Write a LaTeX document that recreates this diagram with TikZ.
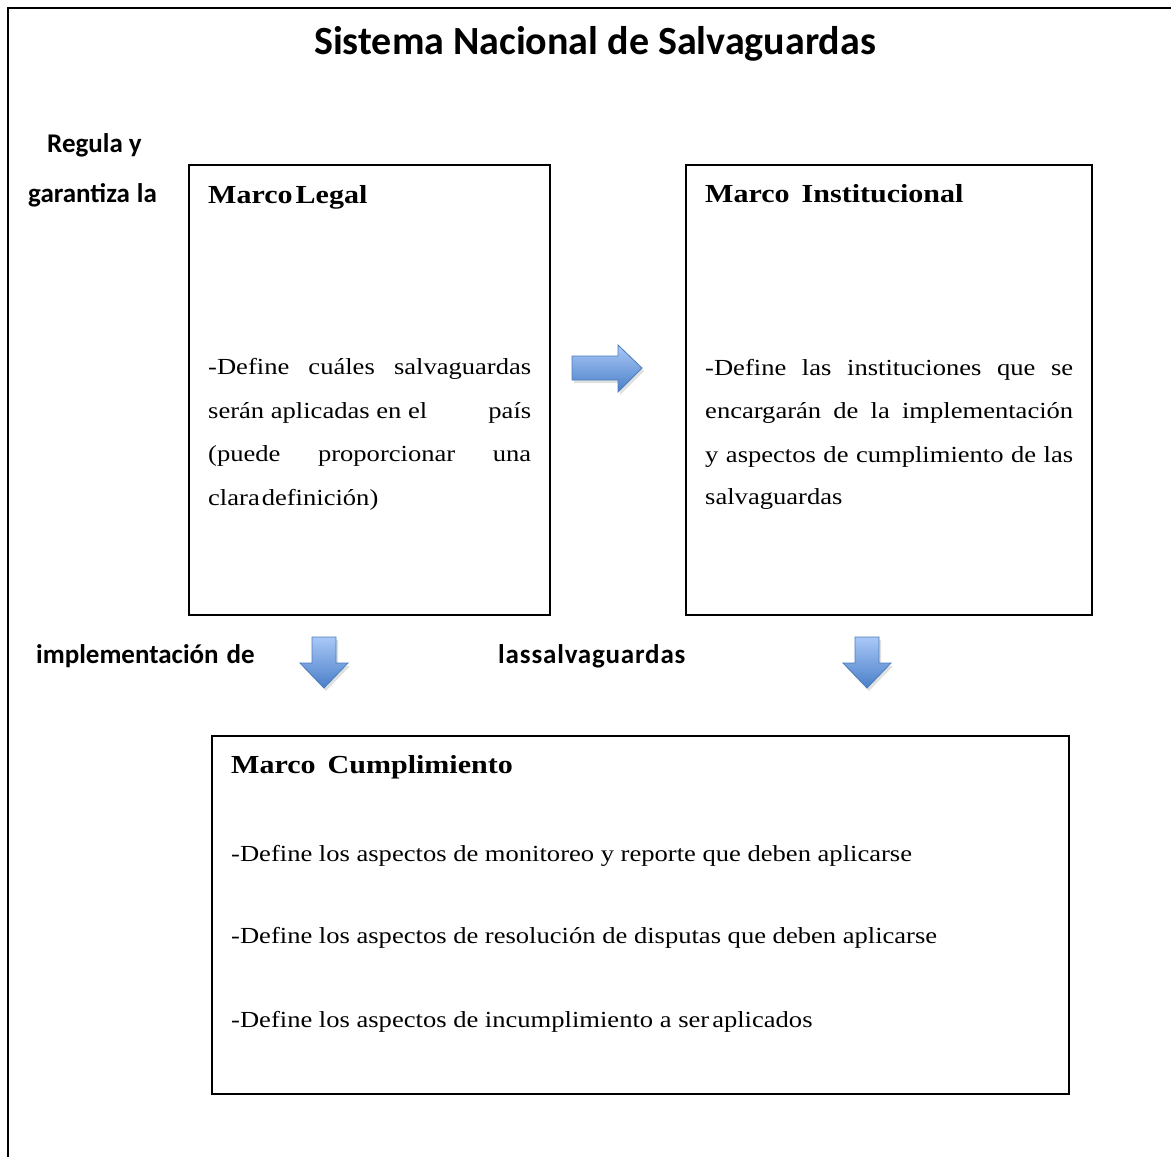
\documentclass[tikz,border=0pt]{standalone}
\usepackage{fontspec}
\setmainfont{Liberation Serif}[FakeStretch=1.155]
\newfontfamily\sansb{Carlito}
\newfontfamily\sansbwide{Carlito}[LetterSpace=3]
\definecolor{arrowlight}{HTML}{A9C8F7}
\definecolor{arrowdark}{HTML}{4A7FC8}
\definecolor{arrowline}{HTML}{4A7EBB}
\tikzset{
  frame/.style={draw=black, line width=1.8pt},
  box/.style={draw=black, line width=1.4pt, anchor=north west, inner sep=0pt, outer sep=0pt},
  bodytext/.style={anchor=base west, inner sep=0pt, font=\fontsize{23}{27}\selectfont},
  headtext/.style={anchor=base west, inner sep=0pt, font=\fontsize{26}{31}\selectfont\bfseries},
  labeltext/.style={anchor=base west, inner sep=0pt, font=\sansb\bfseries\fontsize{27}{32}\selectfont},
  widelabel/.style={anchor=base west, inner sep=0pt, font=\sansbwide\bfseries\fontsize{27}{32}\selectfont},
  titletext/.style={anchor=base, inner sep=0pt, font=\sansb\bfseries\fontsize{40}{48}\selectfont},
  blockarrow/.style={top color=arrowlight, bottom color=arrowdark, draw=arrowline, line width=0.8pt},
  arrowshadow/.style={fill=black, opacity=0.12},
}
\begin{document}
\begin{tikzpicture}[x=1pt,y=-1pt]
\useasboundingbox (0,0) rectangle (1171,1157);
\fill[white] (0,0) rectangle (1171,1157);
% outer frame
\draw[frame] (8,1157) -- (8,8) -- (1171,8);
% title
\node[titletext] (title) at (595,54) {Sistema Nacional de Salvaguardas};
% side labels
\node[labeltext] (lab1) at (47,152) {Regula y};
\node[labeltext] (lab2) at (28,202) {garantiza\hspace{7pt}la};
\node[labeltext] (lab3) at (36,663) {implementación\hspace{8pt}de};
\node[widelabel] (lab4) at (498,663) {las\hspace{1pt}salvaguardas};
% boxes
\node[box, minimum width=361pt, minimum height=450pt] (legal) at (189,165) {};
\node[box, minimum width=406pt, minimum height=450pt] (inst) at (686,165) {};
\node[box, minimum width=857pt, minimum height=358pt] (cumpl) at (212,736) {};
% Marco Legal
\node[headtext] (legalh) at (208,203) {Marco\hspace{3pt}Legal};
\node[bodytext] (l1) at (208,374) {\hbox to 323pt{-Define cuáles salvaguardas}};
\node[bodytext] (l2) at (208,418) {\hbox to 323pt{serán aplicadas en el\ \hfill país}};
\node[bodytext] (l3) at (208,461) {\hbox to 323pt{(puede proporcionar una}};
\node[bodytext] (l4) at (208,505) {clara\hspace{2pt}definición)};
% Marco Institucional
\node[headtext] (insth) at (705,202) {Marco\hspace{12pt}Institucional};
\node[bodytext] (i1) at (705,375) {\hbox to 368pt{-Define las instituciones que se}};
\node[bodytext] (i2) at (705,418) {\hbox to 368pt{encargarán de la implementación}};
\node[bodytext] (i3) at (705,462) {\hbox to 368pt{y aspectos de cumplimiento de las}};
\begin{scope}
\clip (690,480) rectangle (1090,508);
\node[bodytext] (i4) at (705,504) {salvaguardas};
\end{scope}
% Marco Cumplimiento
\node[headtext] (cumplh) at (231,773) {Marco\hspace{12pt}Cumplimiento};
\node[bodytext] (c1) at (231,861) {-Define los aspectos de monitoreo y reporte que deben aplicarse};
\node[bodytext] (c2) at (231,943) {-Define los aspectos de resolución de disputas que deben aplicarse};
\node[bodytext] (c3) at (231,1027) {-Define los aspectos de incumplimiento a ser\hspace{3pt}aplicados};
% block arrows
\coordinate (ra) at (572,368);
\coordinate (da1) at (324,637);
\coordinate (da2) at (867,637);
\fill[arrowshadow] ([shift={(2,3)}]ra) ++(0,-12) -- ++(46,0) -- ++(0,-11) -- ++(24,23) -- ++(-24,24) -- ++(0,-12) -- ++(-46,0) -- cycle;
\shade[blockarrow] (ra) ++(0,-12) -- ++(46,0) -- ++(0,-11) -- ++(24,23) -- ++(-24,24) -- ++(0,-12) -- ++(-46,0) -- cycle;
\foreach \c in {da1,da2}{
  \fill[arrowshadow] ([shift={(2,3)}]\c) ++(-12,0) -- ++(24,0) -- ++(0,26) -- ++(12,0) -- ++(-24,25) -- ++(-24,-25) -- ++(12,0) -- cycle;
  \shade[blockarrow] (\c) ++(-12,0) -- ++(24,0) -- ++(0,26) -- ++(12,0) -- ++(-24,25) -- ++(-24,-25) -- ++(12,0) -- cycle;
}
\end{tikzpicture}
\end{document}
